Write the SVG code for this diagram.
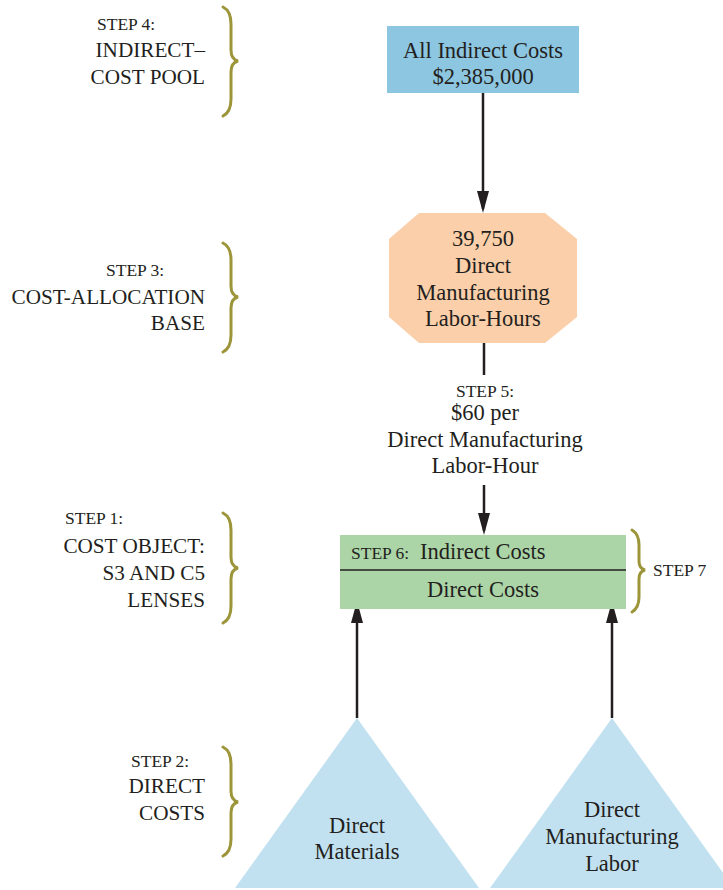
<svg xmlns="http://www.w3.org/2000/svg" width="723" height="890" viewBox="0 0 723 890">
<style>
.t{font-family:"Liberation Serif","Times New Roman",serif;fill:#231f20;}
.n{font-size:22.5px;text-anchor:middle;}
.lab{font-size:21.2px;text-anchor:end;}
.st{font-size:17.5px;}
.brace{fill:none;stroke:#9d953a;stroke-width:3;stroke-linecap:round;}
.conn{stroke:#231f20;stroke-width:2.5;fill:none;}
</style>
<defs>
<marker id="ah" viewBox="0 0 22 12" refX="18" refY="6" markerWidth="22" markerHeight="12" markerUnits="userSpaceOnUse" orient="auto">
<path d="M0,0 L22,6 L0,12 Z" fill="#231f20"/>
</marker>
</defs>
<rect width="723" height="890" fill="#ffffff"/>

<g id="labels">
<g id="step4">
<path class="brace" d="M223,7 C229,10 231,16 231,24 L231,50 C231,56 234,60 238,61 C234,62 231,66 231,72 L231,99 C231,107 229,113 223,116"/>
<text class="t st" x="97" y="30">STEP 4:</text>
<text class="t lab" x="205" y="57">INDIRECT–</text>
<text class="t lab" x="205" y="84">COST POOL</text>
</g>
<g id="step3">
<path class="brace" d="M223,243 C229,246 231,252 231,260 L231,286 C231,292 234,296 238,297 C234,298 231,302 231,308 L231,335 C231,343 229,349 223,352"/>
<text class="t st" x="106" y="276">STEP 3:</text>
<text class="t lab" x="205" y="304">COST-ALLOCATION</text>
<text class="t lab" x="205" y="330">BASE</text>
</g>
<g id="step1">
<path class="brace" d="M223,513 C229,516 231,522 231,530 L231,557 C231,563 234,567 238,568 C234,569 231,573 231,579 L231,606 C231,614 229,620 223,623"/>
<text class="t st" x="65" y="524">STEP 1:</text>
<text class="t lab" x="205" y="553">COST OBJECT:</text>
<text class="t lab" x="205" y="580">S3 AND C5</text>
<text class="t lab" x="205" y="607">LENSES</text>
</g>
<g id="step2">
<path class="brace" d="M223,747 C229,750 231,756 231,764 L231,791 C231,797 234,801 238,802 C234,803 231,807 231,813 L231,839 C231,847 229,853 223,856"/>
<text class="t st" x="131" y="767">STEP 2:</text>
<text class="t lab" x="205" y="793">DIRECT</text>
<text class="t lab" x="205" y="820">COSTS</text>
</g>
<g id="step7">
<path class="brace" d="M632,530 C637,533 639,538 639,545 L639,561 C639,566 641,569 645,570 C641,571 639,574 639,579 L639,597 C639,604 637,609 632,612"/>
<text class="t st" x="653" y="576">STEP 7</text>
</g>
</g>

<g id="connectors">
<line class="conn" x1="483" y1="93" x2="483" y2="209" marker-end="url(#ah)"/>
<line class="conn" x1="484" y1="343" x2="484" y2="375"/>
<line class="conn" x1="484" y1="485" x2="484" y2="531" marker-end="url(#ah)"/>
<line class="conn" x1="357" y1="718" x2="357" y2="605" marker-end="url(#ah)"/>
<line class="conn" x1="612" y1="718" x2="612" y2="605" marker-end="url(#ah)"/>
</g>

<g id="pool">
<rect x="387" y="26" width="192" height="67" fill="#8dc6e0"/>
<text class="t n" x="483" y="58">All Indirect Costs</text>
<text class="t n" x="483" y="84">$2,385,000</text>
</g>

<g id="base">
<polygon points="419,213 545,213 577,239 577,317 545,343 419,343 389,317 389,239" fill="#fbcfa9"/>
<text class="t n" x="483" y="246">39,750</text>
<text class="t n" x="483" y="273">Direct</text>
<text class="t n" x="483" y="300">Manufacturing</text>
<text class="t n" x="483" y="326">Labor-Hours</text>
</g>

<g id="rate">
<text class="t st" x="485" y="397" text-anchor="middle">STEP 5:</text>
<text class="t n" x="485" y="420">$60 per</text>
<text class="t n" x="485" y="447">Direct Manufacturing</text>
<text class="t n" x="485" y="473">Labor-Hour</text>
</g>

<g id="object">
<rect x="340" y="535" width="286" height="74" fill="#acd5a7"/>
<line x1="340" y1="570" x2="626" y2="570" stroke="#231f20" stroke-width="1.5"/>
<text class="t st" x="351" y="559">STEP 6:</text>
<text class="t" x="420" y="559" font-size="22.5">Indirect Costs</text>
<text class="t n" x="483" y="597">Direct Costs</text>
</g>

<g id="materials">
<polygon points="357,718 479,888 235,888" fill="#c2e1f0"/>
<text class="t n" x="357" y="833">Direct</text>
<text class="t n" x="357" y="859">Materials</text>
</g>

<g id="labor">
<polygon points="612,718 734,888 490,888" fill="#c2e1f0"/>
<text class="t n" x="612" y="817">Direct</text>
<text class="t n" x="612" y="844">Manufacturing</text>
<text class="t n" x="612" y="871">Labor</text>
</g>
</svg>
